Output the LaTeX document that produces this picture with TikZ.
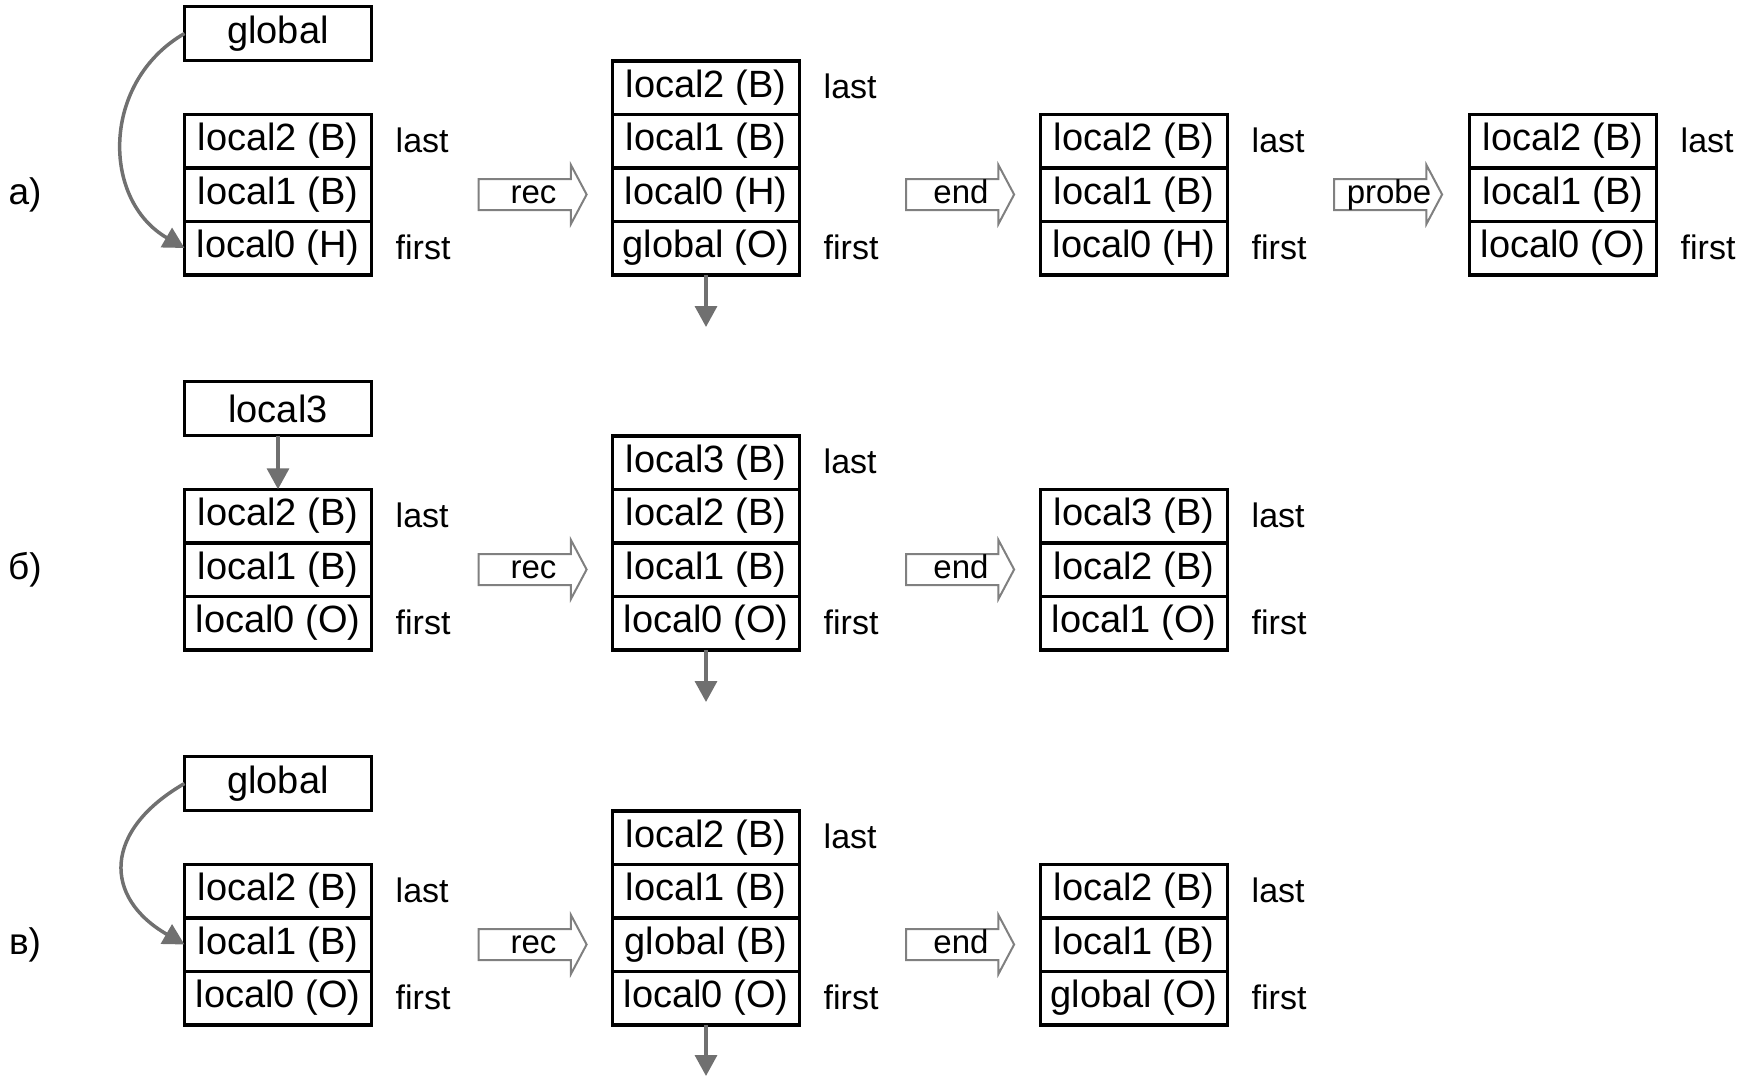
\documentclass[tikz,border=0pt]{standalone}
\usepackage{fontspec}
\setmainfont{Liberation Sans}
\usepackage{xcolor}
\usepackage{tikz}
\usetikzlibrary{shapes.arrows, arrows.meta, positioning}
\definecolor{linkgray}{RGB}{112,112,112}
\definecolor{stepgray}{RGB}{128,128,128}
\tikzset{
    cell/.style={rectangle, minimum width=187pt, minimum height=53.5pt, inner sep=0pt, outer sep=0pt, text centered, draw=black, line width=3.5pt, font=\fontsize{38}{45}\selectfont},
    headbox/.style={cell, minimum height=54pt},
    tag/.style={inner sep=0pt, text height=24pt, text depth=2pt, font=\fontsize{34}{41}\selectfont},
    rowtag/.style={inner sep=0pt, font=\fontsize{37}{44}\selectfont},
    stepper/.style={single arrow, draw=stepgray, fill=white, line width=2pt, minimum height=108pt, minimum width=57pt, single arrow head extend=14pt, single arrow tip angle=124, inner sep=0pt, text height=23pt, text depth=6pt, execute at begin node=\hspace*{10pt}, font=\fontsize{33}{40}\selectfont},
    link/.style={draw=linkgray, line width=3.5pt, -{Triangle[length=21pt, width=22pt]}}
}

\begin{document}
\begin{tikzpicture}[x=1pt, y=-1pt]
    \useasboundingbox (0,0) rectangle (1754,1076);

    % row a
    \node (atag) [rowtag] at (25,194.5) {а)};
    \node (aglob) [headbox] at (278,33.5) {global};
    \node (a1r1) [cell] at (278,141) {local2 (B)};
    \node (a1r2) [cell, below=0pt of a1r1] {local1 (B)};
    \node (a1r3) [cell, below=0pt of a1r2] {local0 (H)};
    \node (a1last) [tag, right=24pt of a1r1] {last};
    \node (a1first) [tag, right=24pt of a1r3] {first};
    \node (arec) [stepper] at (528.5,194.5) {rec};

    \node (a2r1) [cell] at (706,87.5) {local2 (B)};
    \node (a2r2) [cell, below=0pt of a2r1] {local1 (B)};
    \node (a2r3) [cell, below=0pt of a2r2] {local0 (H)};
    \node (a2r4) [cell, below=0pt of a2r3] {global (O)};
    \node (a2last) [tag, right=24pt of a2r1] {last};
    \node (a2first) [tag, right=24pt of a2r4] {first};
    \coordinate (a2out) at (706,327);
    \node (aend) [stepper] at (956,194.5) {end};

    \node (a3r1) [cell] at (1134,141) {local2 (B)};
    \node (a3r2) [cell, below=0pt of a3r1] {local1 (B)};
    \node (a3r3) [cell, below=0pt of a3r2] {local0 (H)};
    \node (a3last) [tag, right=24pt of a3r1] {last};
    \node (a3first) [tag, right=24pt of a3r3] {first};
    \node (aprobe) [stepper] at (1384,194.5) {probe};

    \node (a4r1) [cell] at (1563,141) {local2 (B)};
    \node (a4r2) [cell, below=0pt of a4r1] {local1 (B)};
    \node (a4r3) [cell, below=0pt of a4r2] {local0 (O)};
    \node (a4last) [tag, right=24pt of a4r1] {last};
    \node (a4first) [tag, right=24pt of a4r3] {first};

    \draw [link] (aglob.west) to[out=210, in=150, looseness=1.15] (a1r3.west);
    \draw [link] (a2r4.south) -- (a2out);

    % row b
    \node (btag) [rowtag] at (25,569.5) {б)};
    \node (bloc) [headbox] at (278,408.5) {local3};
    \node (b1r1) [cell] at (278,516) {local2 (B)};
    \node (b1r2) [cell, below=0pt of b1r1] {local1 (B)};
    \node (b1r3) [cell, below=0pt of b1r2] {local0 (O)};
    \node (b1last) [tag, right=24pt of b1r1] {last};
    \node (b1first) [tag, right=24pt of b1r3] {first};
    \node (brec) [stepper] at (528.5,569.5) {rec};

    \node (b2r1) [cell] at (706,462.5) {local3 (B)};
    \node (b2r2) [cell, below=0pt of b2r1] {local2 (B)};
    \node (b2r3) [cell, below=0pt of b2r2] {local1 (B)};
    \node (b2r4) [cell, below=0pt of b2r3] {local0 (O)};
    \node (b2last) [tag, right=24pt of b2r1] {last};
    \node (b2first) [tag, right=24pt of b2r4] {first};
    \coordinate (b2out) at (706,702);
    \node (bend) [stepper] at (956,569.5) {end};

    \node (b3r1) [cell] at (1134,516) {local3 (B)};
    \node (b3r2) [cell, below=0pt of b3r1] {local2 (B)};
    \node (b3r3) [cell, below=0pt of b3r2] {local1 (O)};
    \node (b3last) [tag, right=24pt of b3r1] {last};
    \node (b3first) [tag, right=24pt of b3r3] {first};

    \draw [link] (bloc) -- (b1r1);
    \draw [link] (b2r4.south) -- (b2out);

    % row v
    \node (vtag) [rowtag] at (25,944.5) {в)};
    \node (vglob) [headbox] at (278,783.5) {global};
    \node (v1r1) [cell] at (278,891) {local2 (B)};
    \node (v1r2) [cell, below=0pt of v1r1] {local1 (B)};
    \node (v1r3) [cell, below=0pt of v1r2] {local0 (O)};
    \node (v1last) [tag, right=24pt of v1r1] {last};
    \node (v1first) [tag, right=24pt of v1r3] {first};
    \node (vrec) [stepper] at (528.5,944.5) {rec};

    \node (v2r1) [cell] at (706,837.5) {local2 (B)};
    \node (v2r2) [cell, below=0pt of v2r1] {local1 (B)};
    \node (v2r3) [cell, below=0pt of v2r2] {global (B)};
    \node (v2r4) [cell, below=0pt of v2r3] {local0 (O)};
    \node (v2last) [tag, right=24pt of v2r1] {last};
    \node (v2first) [tag, right=24pt of v2r4] {first};
    \coordinate (v2out) at (706,1076);
    \node (vend) [stepper] at (956,944.5) {end};

    \node (v3r1) [cell] at (1134,891) {local2 (B)};
    \node (v3r2) [cell, below=0pt of v3r1] {local1 (B)};
    \node (v3r3) [cell, below=0pt of v3r2] {global (O)};
    \node (v3last) [tag, right=24pt of v3r1] {last};
    \node (v3first) [tag, right=24pt of v3r3] {first};

    \draw [link] (vglob.west) to[out=210, in=150, looseness=1.5] (v1r2.west);
    \draw [link] (v2r4.south) -- (v2out);
\end{tikzpicture}
\end{document}
